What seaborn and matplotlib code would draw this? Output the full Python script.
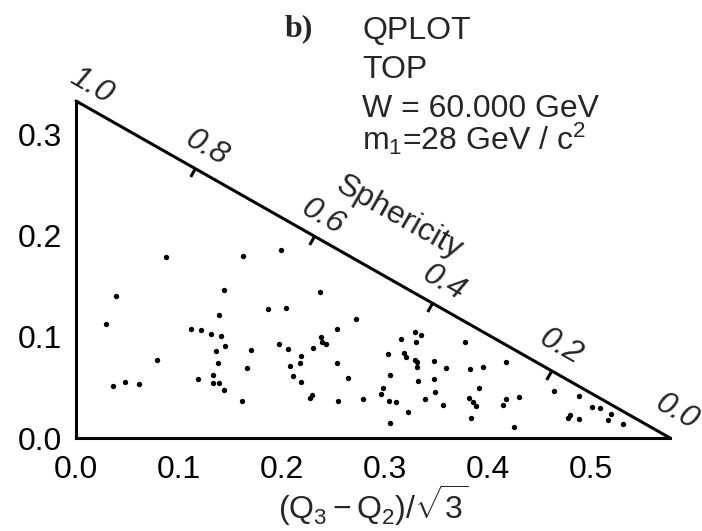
import numpy as np
import pandas as pd
import matplotlib
matplotlib.use("Agg")
import matplotlib.pyplot as plt
from matplotlib.path import Path
import seaborn as sns

# Event positions in the Q-plot: x = (Q3 - Q2)/sqrt(3), y = Q1
q_x = [0.087, 0.162, 0.199, 0.0385, 0.0288, 0.144, 0.1385, 0.187, 0.204, 0.112,
       0.121, 0.131, 0.141, 0.145, 0.136, 0.170, 0.197, 0.206, 0.138, 0.0786,
       0.166, 0.2075, 0.211, 0.036, 0.0476, 0.0615, 0.119, 0.133, 0.133, 0.139,
       0.144, 0.161, 0.237, 0.272, 0.254, 0.238, 0.239, 0.243, 0.230, 0.219,
       0.218, 0.219, 0.254, 0.264, 0.229, 0.227, 0.255, 0.279, 0.329, 0.335,
       0.330, 0.3155, 0.303, 0.319, 0.321, 0.329, 0.331, 0.331, 0.348, 0.360,
       0.378, 0.383, 0.396, 0.418, 0.305, 0.332, 0.348, 0.298, 0.296, 0.304,
       0.311, 0.3485, 0.3395, 0.357, 0.3226, 0.305, 0.3916, 0.382, 0.386, 0.389,
       0.384, 0.431, 0.418, 0.415, 0.426, 0.465, 0.489, 0.501, 0.509, 0.520,
       0.5175, 0.532, 0.480, 0.478, 0.489]
q_y = [0.179, 0.180, 0.186, 0.140, 0.113, 0.146, 0.122, 0.128, 0.129, 0.108,
       0.1065, 0.103, 0.101, 0.091, 0.086, 0.087, 0.093, 0.088, 0.0745, 0.077,
       0.069, 0.0715, 0.0617, 0.0514, 0.055, 0.053, 0.058, 0.062, 0.054, 0.054,
       0.0475, 0.0366, 0.144, 0.118, 0.1075, 0.100, 0.095, 0.093, 0.089, 0.081,
       0.074, 0.0557, 0.074, 0.0597, 0.0425, 0.040, 0.037, 0.0386, 0.1045, 0.102,
       0.095, 0.0976, 0.083, 0.084, 0.080, 0.077, 0.075, 0.0705, 0.076, 0.069,
       0.095, 0.0686, 0.070, 0.075, 0.062, 0.0567, 0.058, 0.0495, 0.044, 0.0366,
       0.0356, 0.046, 0.0386, 0.033, 0.0254, 0.0145, 0.0495, 0.040, 0.036, 0.032,
       0.020, 0.041, 0.039, 0.033, 0.011, 0.047, 0.042, 0.0307, 0.030, 0.024,
       0.0175, 0.0135, 0.0227, 0.020, 0.0188]

# Sphericity scale along the Q1 = Q2 edge
sph_values = [1.0, 0.8, 0.6, 0.4, 0.2, 0.0]
sph_labels = ["1.0", "0.8", "0.6", "0.4", "0.2", "0.0"]
sph_title = "Sphericity"

x_ticks = [0.0, 0.1, 0.2, 0.3, 0.4, 0.5]
x_ticklabels = ["0.0", "0.1", "0.2", "0.3", "0.4", "0.5"]
y_ticks = [0.0, 0.1, 0.2, 0.3]
y_ticklabels = ["0.0", "0.1", "0.2", "0.3"]
x_label = r"$(\mathrm{Q}_3-\mathrm{Q}_2)/\sqrt{3}$"

panel_tag = "b)"
info_lines = ["QPLOT", "TOP", "W = 60.000 GeV", r"m$_1$=28 GeV / c$^2$"]

# Label offsets from the scale ticks, in points (right, up)
sph_label_offsets = [(11.3, 10.8), (8.4, 14.7), (6.8, 13.7), (8.1, 14.8), (7.2, 16.8), (4.8, 18.7)]

sns.set_style("white")
plt.rcParams["font.family"] = ["Liberation Sans", "DejaVu Sans"]
plt.rcParams["mathtext.fontset"] = "custom"
plt.rcParams["mathtext.rm"] = "Liberation Sans"
plt.rcParams["mathtext.it"] = "Liberation Sans"
plt.rcParams["mathtext.bf"] = "Liberation Sans:bold"

FS = 23
LW = 2.2

fig = plt.figure(figsize=(7.02, 5.31), dpi=100)
ax = fig.add_axes([0.1083, 0.1751, 0.8462, 0.6347])

x_max = 1 / np.sqrt(3)
y_max = 1 / 3


def sph_to_xy(s):
    """Point on the Q1 = Q2 boundary with sphericity s."""
    q1 = s / 3.0
    return (1 - 3 * q1) / np.sqrt(3), q1


ax.set_xlim(0, x_max)
ax.set_ylim(0, y_max)

# Upper boundary of the kinematic region
edge = pd.DataFrame({"x": [sph_to_xy(s)[0] for s in (sph_values[0], sph_values[-1])],
                     "y": [sph_to_xy(s)[1] for s in (sph_values[0], sph_values[-1])]})
sns.lineplot(data=edge, x="x", y="y", sort=False, estimator=None, color="black",
             linewidth=LW, ax=ax, clip_on=False)

# Events
events = pd.DataFrame({"x": q_x, "y": q_y})
sns.scatterplot(data=events, x="x", y="y", s=15, color="black", linewidth=0,
                ax=ax, clip_on=False, zorder=3)

ax.set_xticks(x_ticks)
ax.set_xticklabels(x_ticklabels)
ax.set_yticks(y_ticks)
ax.set_yticklabels(y_ticklabels)
ax.set_xlim(0, x_max)
ax.set_ylim(0, y_max)
sns.despine(ax=ax)
for side in ("left", "bottom"):
    ax.spines[side].set_linewidth(LW)
    ax.spines[side].set_color("black")
ax.tick_params(direction="in", length=7, width=LW, labelsize=FS, colors="black")
ax.tick_params(axis="x", pad=12)
ax.tick_params(axis="y", pad=10)
ax.set_xlabel(x_label, fontsize=FS, labelpad=-2)
ax.set_ylabel("")

# Direction of the boundary on screen
p0 = ax.transData.transform(sph_to_xy(1.0))
p1 = ax.transData.transform(sph_to_xy(0.0))
ang = np.degrees(np.arctan2(p1[1] - p0[1], p1[0] - p0[0]))
u = np.array([np.cos(np.radians(ang)), np.sin(np.radians(ang))])
n_out = np.array([-u[1], u[0]])

# Inward tick marks along the sphericity scale
tick_len = 7.0
tick_path = Path([(0, 0), (-n_out[0], -n_out[1])], [Path.MOVETO, Path.LINETO])
ms = tick_len / (0.5 / np.max(np.abs(n_out)))
inner = [s for s in sph_values if 0 < s < 1]
ax.plot([sph_to_xy(s)[0] for s in inner], [sph_to_xy(s)[1] for s in inner],
        ls="none", marker=tick_path, ms=ms, mew=LW, color="black", clip_on=False)

for s, lab, off in zip(sph_values, sph_labels, sph_label_offsets):
    ax.annotate(lab, sph_to_xy(s), xytext=off,
                textcoords="offset points", ha="center", va="center",
                rotation=ang, rotation_mode="anchor", fontsize=FS,
                fontstyle="italic", annotation_clip=False)

ax.annotate(sph_title, sph_to_xy(0.5),
            xytext=(41.5 * n_out[0] - 2 * u[0], 41.5 * n_out[1] - 2 * u[1]),
            textcoords="offset points", ha="center", va="center",
            rotation=ang, rotation_mode="anchor", fontsize=FS,
            annotation_clip=False)

# Header block
W, H = 702.0, 531.0
fig.text(285 / W, 1 - 36 / H, panel_tag, family=["Liberation Serif", "DejaVu Serif"],
         fontsize=FS, fontweight="bold", ha="left", va="baseline")
baselines = [39, 78, 117, 150]
for line, b in zip(info_lines, baselines):
    fig.text(362 / W, 1 - b / H, line, family=["Liberation Sans"],
             fontsize=FS, ha="left", va="baseline")

fig.savefig("out.png", dpi=100, facecolor="white")
